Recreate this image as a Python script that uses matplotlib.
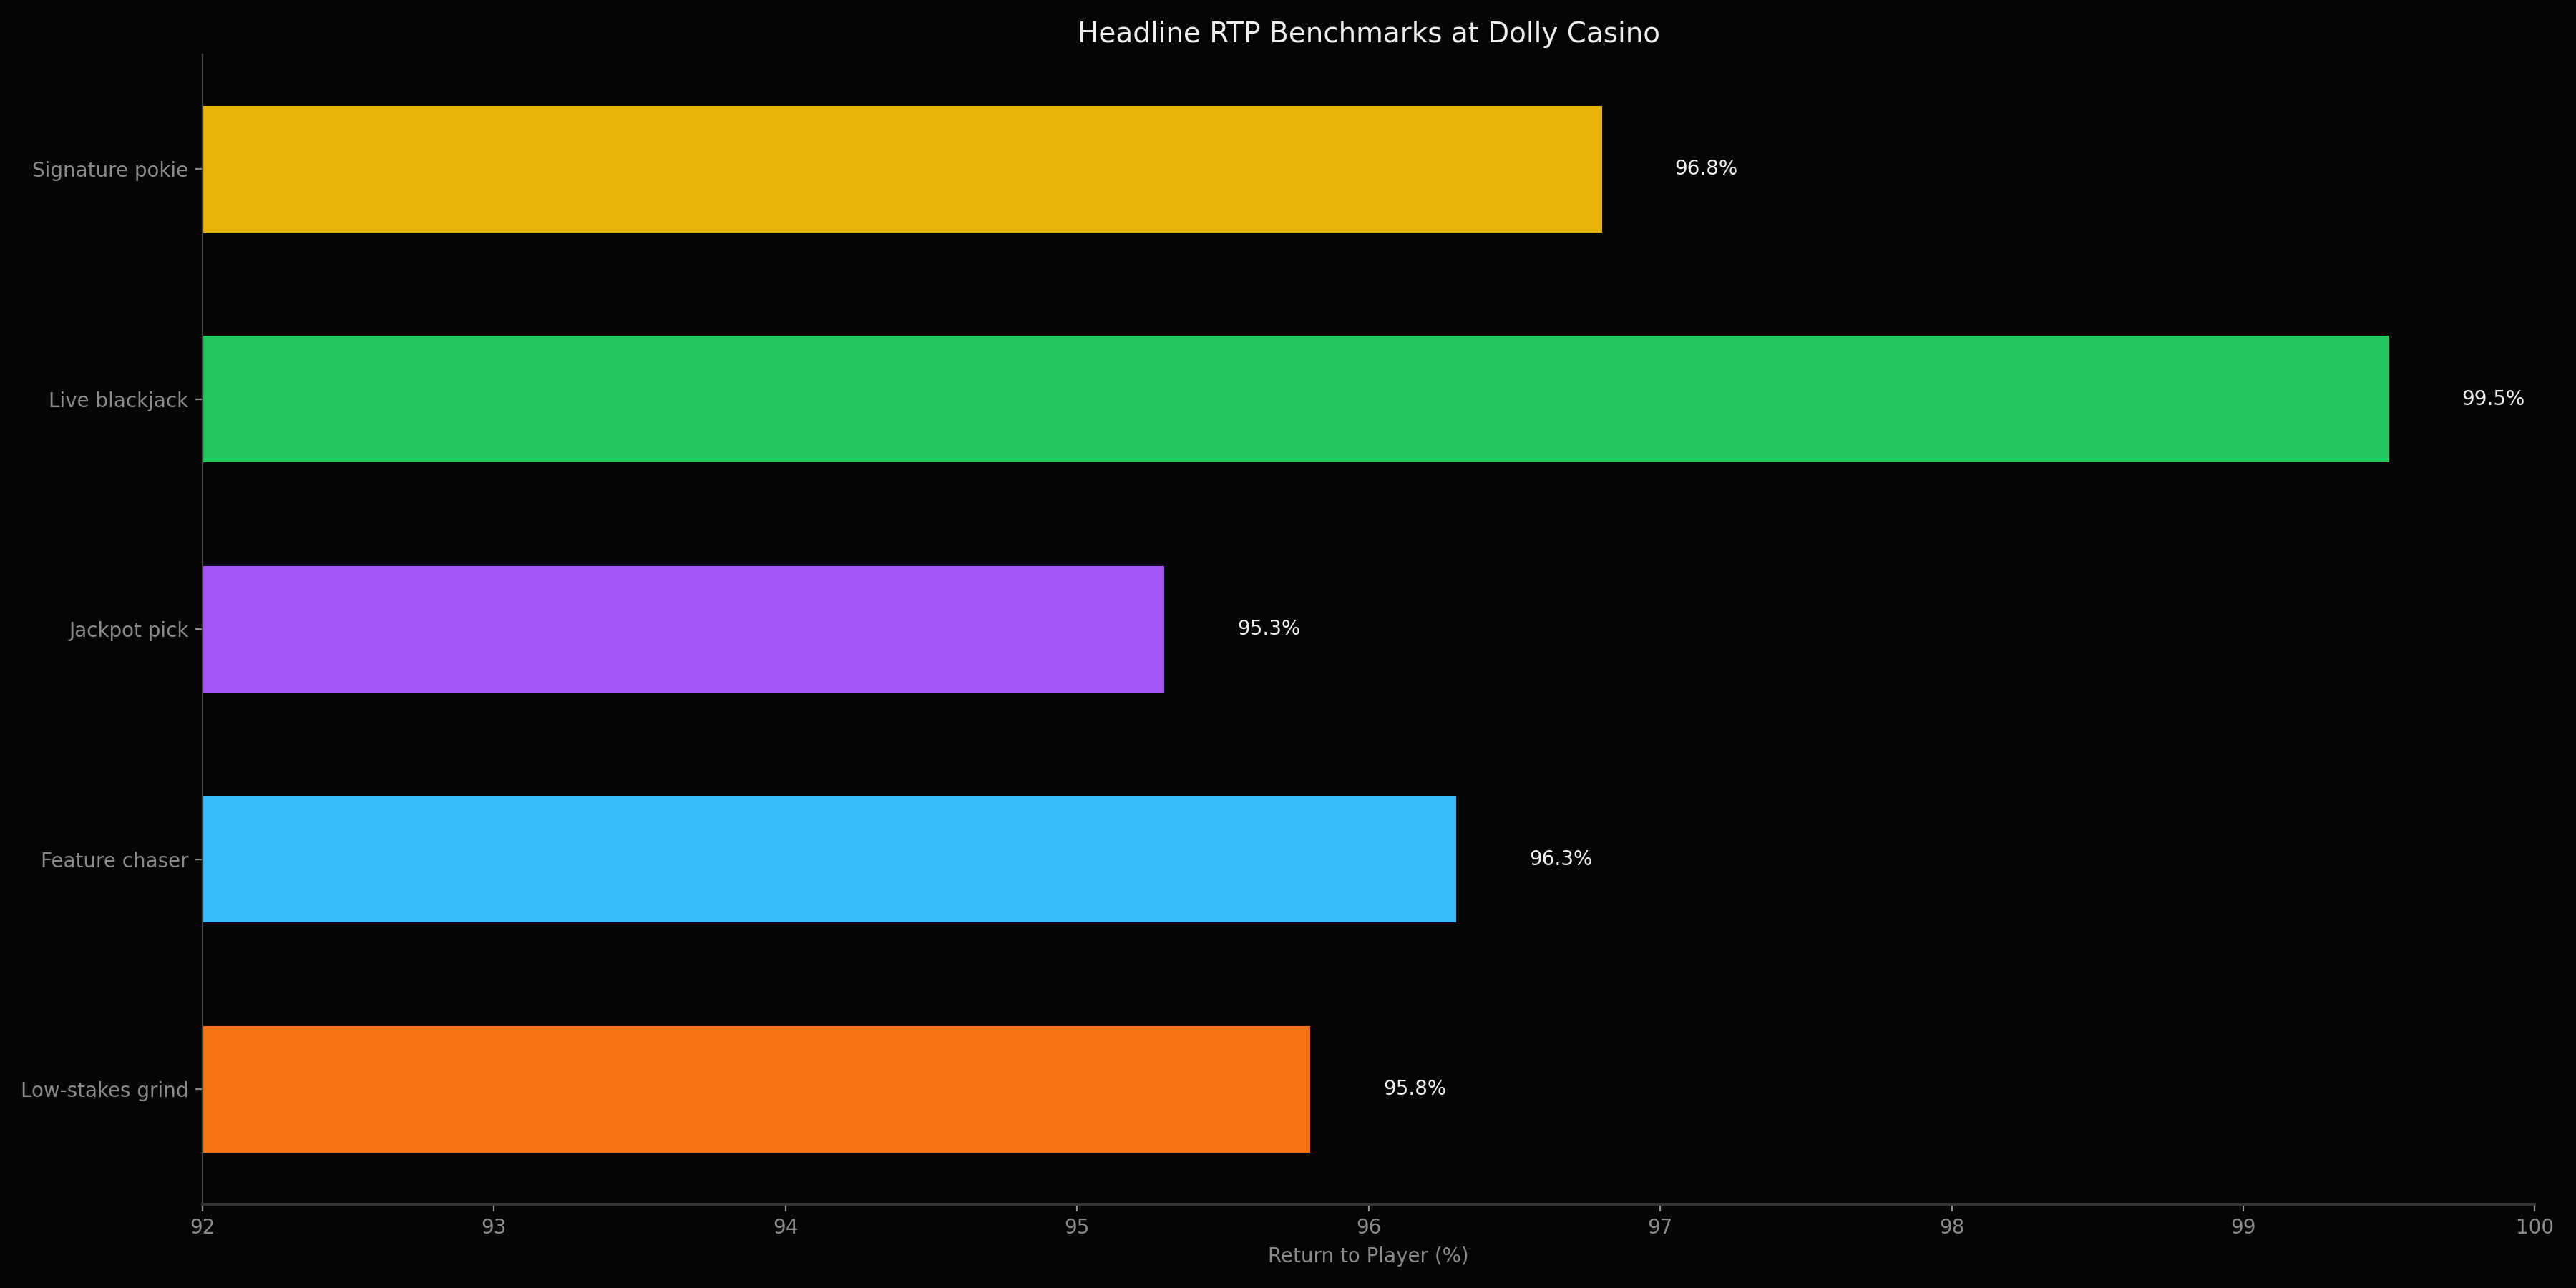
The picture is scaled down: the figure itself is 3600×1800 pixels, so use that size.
import matplotlib
matplotlib.use("Agg")
import matplotlib.pyplot as plt

categories = ["Signature pokie", "Live blackjack", "Jackpot pick", "Feature chaser", "Low-stakes grind"]
rtp_values = [96.8, 99.5, 95.3, 96.3, 95.8]
bar_colors = ["#eab308", "#22c55e", "#a855f7", "#38bdf8", "#f97316"]
x_ticks = [92, 93, 94, 95, 96, 97, 98, 99, 100]

bg = "#050505"
fig = plt.figure(figsize=(18, 9), dpi=200, facecolor=bg)
ax = fig.add_axes([0.0786, 0.065, 0.9054, 0.893])
ax.set_facecolor(bg)

ypos = list(range(len(categories)))[::-1]
ax.barh(ypos, [v - 92 for v in rtp_values], left=92, height=0.55, color=bar_colors)

for y, v in zip(ypos, rtp_values):
    ax.text(v + 0.25, y, f"{v:.1f}%", va="center", ha="left", color="#f0f0f0", fontsize=10)

ax.set_xlim(92, 100)
ax.set_ylim(-0.5, len(categories) - 0.5)
ax.set_yticks(ypos)
ax.set_yticklabels(categories)
ax.set_xticks(x_ticks)
ax.set_xticklabels([str(t) for t in x_ticks])
ax.tick_params(axis="both", colors="#8a8a8a", labelsize=10, labelcolor="#8a8a8a")
ax.set_xlabel("Return to Player (%)", color="#8a8a8a", fontsize=10)
ax.set_title("Headline RTP Benchmarks at Dolly Casino", color="#eeeeee", fontsize=14)

for s in ["top", "right"]:
    ax.spines[s].set_visible(False)
ax.spines["left"].set_color("#444444")
ax.spines["bottom"].set_color("#333333")
ax.spines["bottom"].set_linewidth(1.5)

fig.savefig("out.png", dpi=200, facecolor=bg)
